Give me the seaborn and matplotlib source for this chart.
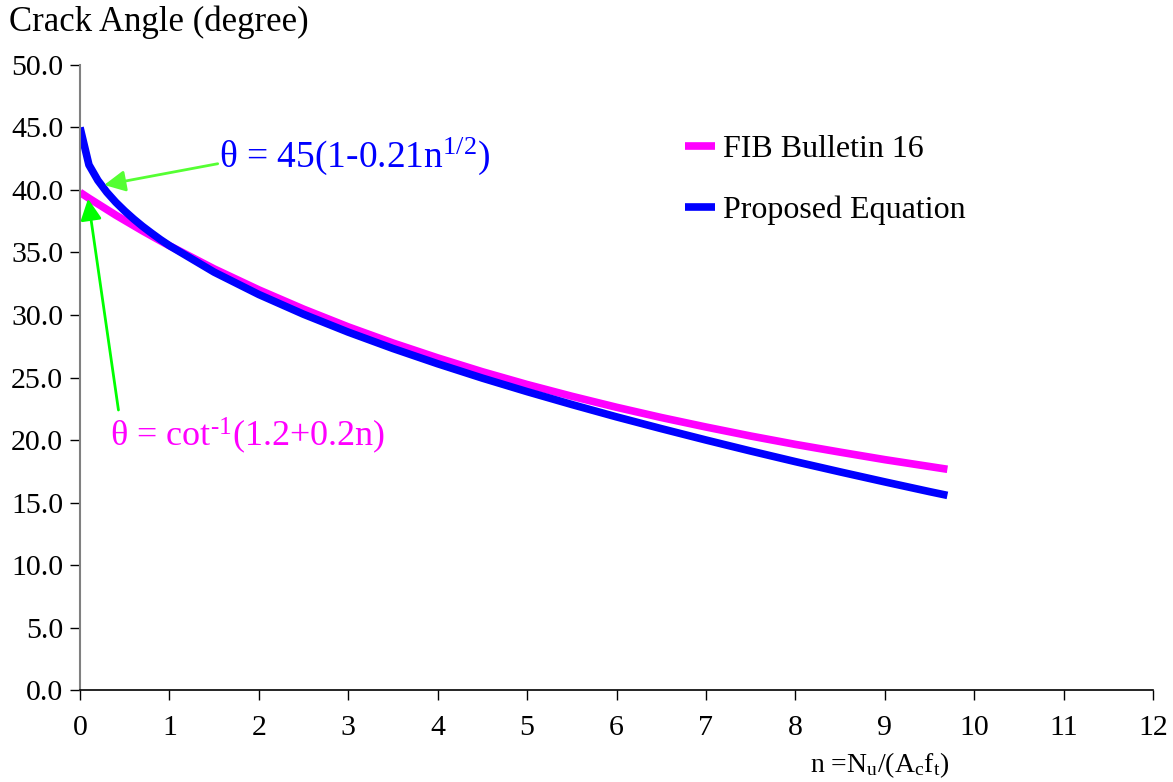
import matplotlib
matplotlib.use("Agg")
import matplotlib.pyplot as plt
import seaborn as sns
import pandas as pd
from matplotlib.lines import Line2D

# ---- data ----
n_values = [0.0, 0.1, 0.2, 0.3, 0.4, 0.5, 0.6, 0.7, 0.8, 0.9, 1.0,
            1.5, 2.0, 2.5, 3.0, 3.5, 4.0, 4.5, 5.0, 5.5, 6.0,
            6.5, 7.0, 7.5, 8.0, 8.5, 9.0, 9.5, 9.7]
fib_angle = [39.81, 39.34, 38.89, 38.44, 37.99, 37.57, 37.15, 36.73, 36.33, 35.93, 35.54,
             33.69, 32.01, 30.47, 29.05, 27.76, 26.57, 25.46, 24.44, 23.50, 22.62,
             21.80, 21.04, 20.32, 19.65, 19.03, 18.43, 17.88, 17.66]
proposed_angle = [45.00, 42.01, 40.77, 39.82, 39.02, 38.32, 37.68, 37.09, 36.55, 36.03, 35.55,
                  33.43, 31.64, 30.06, 28.63, 27.32, 26.10, 24.95, 23.87, 22.84, 21.85,
                  20.91, 20.00, 19.12, 18.27, 17.45, 16.65, 15.87, 15.57]
series_names = ["FIB Bulletin 16", "Proposed Equation"]
x_ticks = list(range(0, 13))
y_ticks = [0, 5, 10, 15, 20, 25, 30, 35, 40, 45, 50]

sns.set_theme(style="white")
plt.rcParams['font.family'] = ['Liberation Serif', 'DejaVu Serif']
plt.rcParams['mathtext.fontset'] = 'custom'
plt.rcParams['mathtext.rm'] = 'Liberation Serif'
plt.rcParams['mathtext.it'] = 'Liberation Serif'
plt.rcParams['text.color'] = 'black'

df = pd.DataFrame({
    "n": n_values * 2,
    "angle": fib_angle + proposed_angle,
    "series": [series_names[0]] * len(n_values) + [series_names[1]] * len(n_values),
})

fig = plt.figure(figsize=(11.73, 7.82), dpi=100)
ax = fig.add_axes([0.0682, 0.1176, 0.9148, 0.7993])

sns.lineplot(data=df, x="n", y="angle", hue="series", hue_order=series_names,
             palette={"FIB Bulletin 16": "#ff00ff", "Proposed Equation": "#0000ff"},
             linewidth=5.5, sort=False, ax=ax, legend=False,
             solid_capstyle='butt', solid_joinstyle='round')
ax.set_xlim(0, 12)
ax.set_ylim(0, 50)
ax.set_xticks(x_ticks)
ax.set_yticks(y_ticks)
ax.set_yticklabels([f"{v:.1f}" for v in y_ticks])
ax.tick_params(axis='both', labelsize=21.5, direction='out', length=7, width=1,
               colors='black', labelcolor='black', left=True, bottom=True)
ax.tick_params(axis='x', pad=11)
ax.tick_params(axis='y', pad=5)
for s in ["top", "right"]:
    ax.spines[s].set_visible(False)
ax.spines["left"].set_color("#808080")
ax.spines["left"].set_linewidth(1.5)
ax.spines["bottom"].set_color("black")
ax.spines["bottom"].set_linewidth(1.2)
ax.set_xlabel("")
ax.set_ylabel("")

fig.text(0.008, 0.972, "Crack Angle (degree)", fontsize=25, ha='left', va='center', color='black')
fig.text(0.75, 0.021, r"n =N$_\mathregular{u}$/(A$_\mathregular{c}$f$_\mathregular{t}$)",
         fontsize=20, ha='center', va='center', color='black')

# legend
handles = [Line2D([], [], color="#ff00ff", linewidth=5.5, solid_capstyle='butt'),
           Line2D([], [], color="#0000ff", linewidth=5.5, solid_capstyle='butt')]
ax.legend(handles, series_names, loc='upper left', bbox_to_anchor=(0.537, 0.935),
          frameon=False, fontsize=23, handlelength=0.95, handletextpad=0.25,
          labelspacing=1.0, labelcolor='black')

# annotations: arrows and texts
ax.annotate("", xy=(0.27, 40.4), xytext=(1.54, 42.1),
            arrowprops=dict(arrowstyle='-|>', color="#55ff33", lw=2, mutation_scale=32,
                            shrinkA=0, shrinkB=0))
ax.text(1.55, 42.7, r"θ = 45(1-0.21n$^{\mathregular{1/2}}$)", color="#0000ff",
        fontsize=27, ha='left', va='center')
ax.annotate("", xy=(0.09, 39.3), xytext=(0.43, 22.4),
            arrowprops=dict(arrowstyle='-|>', color="#00ff00", lw=2, mutation_scale=32,
                            shrinkA=0, shrinkB=0))
ax.text(0.33, 20.3, r"θ = cot$^{\mathregular{‐1}}$(1.2+0.2n)", color="#ff00ff",
        fontsize=26, ha='left', va='center')

fig.savefig("out.png", dpi=100)
